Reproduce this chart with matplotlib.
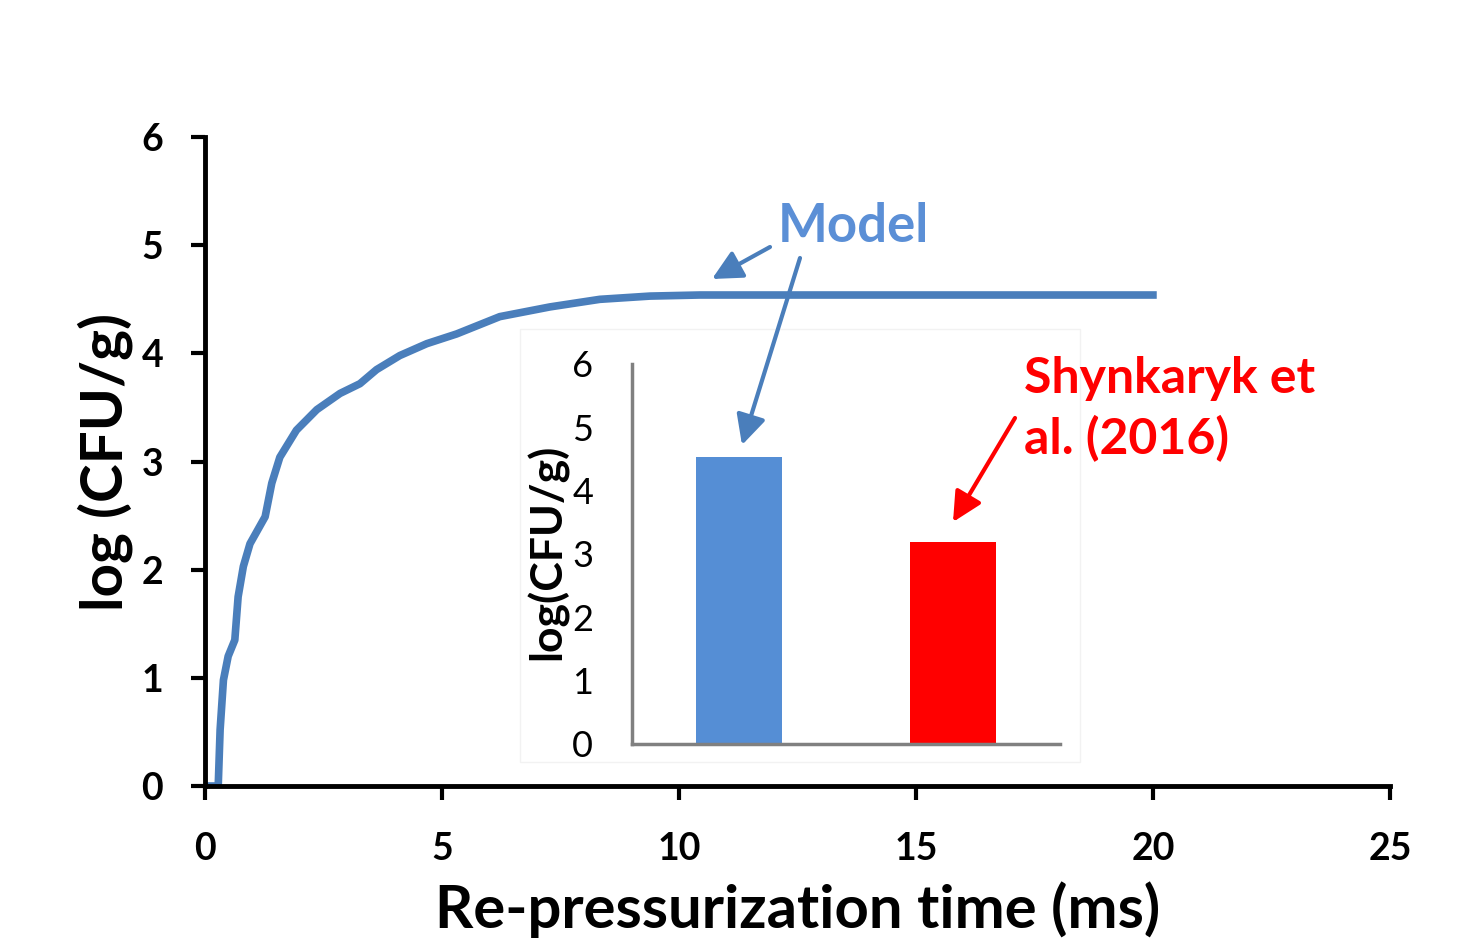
import matplotlib
matplotlib.use("Agg")
import matplotlib.pyplot as plt
from matplotlib.patches import Rectangle, FancyArrowPatch

plt.rcParams['font.family'] = ['Lato', 'DejaVu Sans']

# model curve: log(CFU/g) vs re-pressurization time (ms)
time_ms = [0.0, 0.28, 0.32, 0.39, 0.49, 0.63, 0.70, 0.81, 0.95, 1.27, 1.41, 1.58,
           1.93, 2.36, 2.85, 3.27, 3.62, 4.11, 4.68, 5.31, 6.22, 7.28, 8.33,
           9.39, 10.44, 20.0]
log_cfu = [0.0, 0.0, 0.52, 0.98, 1.2, 1.35, 1.75, 2.03, 2.24, 2.49, 2.80, 3.04,
           3.29, 3.48, 3.63, 3.72, 3.85, 3.98, 4.09, 4.18, 4.34, 4.43, 4.50,
           4.53, 4.54, 4.54]

# inset comparison
bar_labels = ["Model", "Shynkaryk et\nal. (2016)"]
bar_values = [4.53, 3.19]
bar_colors = ["#558ED5", "#FF0000"]

curve_color = "#4A7EBB"

fig = plt.figure(figsize=(14.66, 9.41), dpi=100)
ax = fig.add_axes([0.1398, 0.1647, 0.8083, 0.6896])
ax.plot(time_ms, log_cfu, color=curve_color, lw=5.5, solid_joinstyle='round')
ax.set_xlim(0, 25)
ax.set_ylim(0, 6)
ax.set_xticks([0, 5, 10, 15, 20, 25])
ax.set_yticks(range(7))
for s in ['top', 'right']:
    ax.spines[s].set_visible(False)
for s in ['left', 'bottom']:
    ax.spines[s].set_linewidth(3.5)
ax.tick_params(direction='out', length=10, width=3, labelsize=27)
ax.tick_params(axis='x', pad=23)
ax.tick_params(axis='y', pad=20)
for lab in ax.get_xticklabels() + ax.get_yticklabels():
    lab.set_fontweight('bold')
ax.set_xlabel("Re-pressurization time (ms)", fontsize=43, fontweight='bold', labelpad=11)
ax.set_ylabel("log (CFU/g)", fontsize=42, fontweight='bold', labelpad=6)

# white panel behind the inset
fig.add_artist(Rectangle((0.355, 0.19), 0.382, 0.46, transform=fig.transFigure,
                         facecolor='white', edgecolor='#f2f2f2', lw=1, zorder=0.5))

ins = fig.add_axes([0.4311, 0.2094, 0.292, 0.4038])
ins.set_zorder(0.8)
ins.set_facecolor('none')
ins.bar(range(len(bar_values)), bar_values, width=0.4, color=bar_colors)
ins.set_xlim(-0.5, 1.5)
ins.set_ylim(0, 6)
ins.set_xticks([])
ins.set_yticks(range(7))
for s in ['top', 'right']:
    ins.spines[s].set_visible(False)
for s in ['left', 'bottom']:
    ins.spines[s].set_linewidth(2.5)
    ins.spines[s].set_color('#808080')
ins.tick_params(axis='y', length=0, labelsize=26, pad=28)
ins.set_ylabel("log(CFU/g)", fontsize=32, fontweight='bold')
ins.yaxis.set_label_coords(-0.148, 0.505)

# annotations
fig.text(853 / 1466, 1 - 226 / 941, bar_labels[0], color="#5B8FD6", fontsize=38,
         fontweight='bold', ha='center', va='center', zorder=3)
fig.text(1024 / 1466, 1 - 409 / 941, bar_labels[1], color="#FF0000",
         fontsize=36, fontweight='bold', ha='left', va='center', linespacing=1.38,
         zorder=3)

arrow_kw = dict(arrowstyle='-|>,head_length=0.9,head_width=0.45', lw=3,
                mutation_scale=20, transform=fig.transFigure, zorder=3,
                shrinkA=0, shrinkB=0)
fig.add_artist(FancyArrowPatch((770 / 1466, 1 - 247 / 941), (712 / 1466, 1 - 279 / 941),
                               color=curve_color, **arrow_kw))
fig.add_artist(FancyArrowPatch((800 / 1466, 1 - 258 / 941), (742 / 1466, 1 - 445 / 941),
                               color=curve_color, **arrow_kw))
fig.add_artist(FancyArrowPatch((1015 / 1466, 1 - 418 / 941), (953 / 1466, 1 - 522 / 941),
                               color="#FF0000", **arrow_kw))

fig.savefig("out.png", dpi=100)
